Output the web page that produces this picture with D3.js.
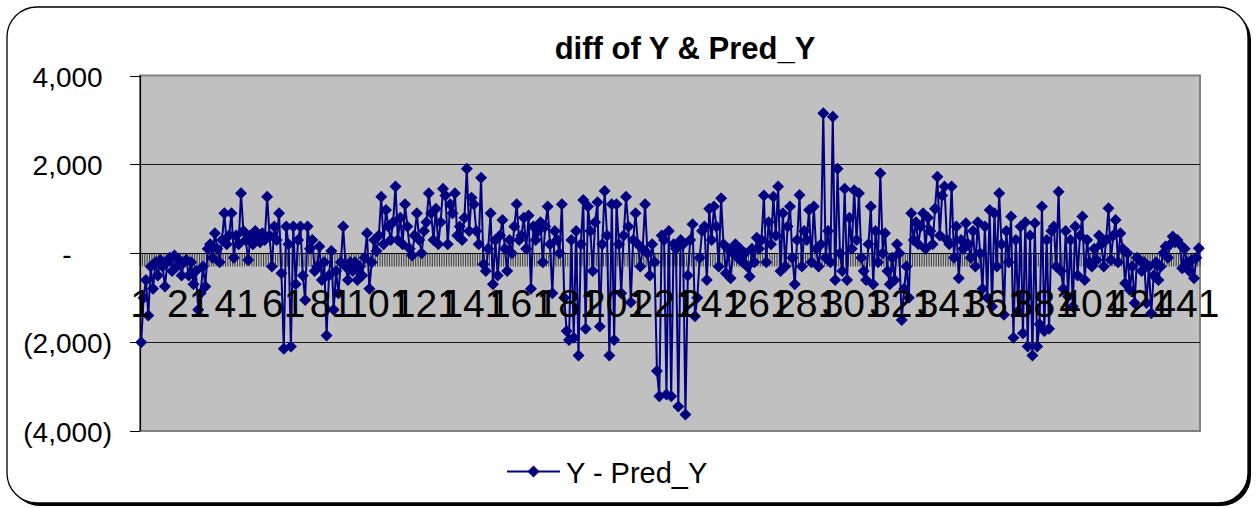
<!DOCTYPE html>
<html><head><meta charset="utf-8">
<script src="https://cdn.jsdelivr.net/npm/d3@7"></script>
<style>
body{margin:0;background:#fff}
svg{display:block}
text{font-family:"Liberation Sans", Arial, sans-serif;fill:#000}
</style>
</head><body>
<svg id="c" width="1256" height="508"></svg>
<script>
const chartTitle = "diff of Y & Pred_Y";
const seriesName = "Y - Pred_Y";
const seriesValues = [
 -2000,-1000,-600,-1400,-300,-800,-200,-500,-150,-300,-750,-200,-100,-400,-50,-300,-150,-500,-200,-150,
 -500,-200,-700,-400,-1270,-900,-300,-750,100,200,-100,450,100,-200,300,900,200,400,900,-100,
 400,200,1350,500,300,-150,400,200,500,350,250,450,300,1270,400,-300,600,300,900,-450,
 -2150,600,200,-2100,600,-700,300,600,-500,-1050,600,100,300,-400,-300,150,-600,-200,-1850,-500,
 50,-1270,-400,-900,-200,600,-300,-600,-200,-400,-200,-600,-300,-500,-100,450,-800,-200,300,50,
 400,1270,200,975,600,300,700,1500,300,800,200,1100,600,100,-50,400,900,300,0,500,
 700,1350,900,300,1000,200,700,1450,1300,200,1100,900,1350,400,600,300,800,1900,500,1250,
 1100,500,200,1700,-250,-400,100,900,-700,300,-500,400,750,100,-400,300,0,600,1100,300,
 400,800,100,850,-800,600,300,500,700,-200,600,1050,200,-900,500,300,0,1100,-1000,-1750,
 -1950,300,-1900,500,-2300,200,1200,-1700,1050,500,-400,700,1150,-1650,200,1400,400,-2300,1100,-1950,
 1100,200,-900,400,1270,600,-1100,300,900,200,-300,100,1100,0,-500,200,-200,-2650,-3220,400,
 300,-3180,500,-3220,200,100,-3450,300,200,-3630,-500,300,650,-1420,-1000,-100,500,600,-600,1000,
 300,1050,600,-300,1235,200,-450,100,-560,0,200,-100,100,-200,0,-300,-525,100,-200,350,
 100,300,1300,-200,700,200,1270,400,1500,-400,900,-300,600,1050,-100,-700,300,1310,-300,500,
 300,975,-200,1050,100,-300,200,3150,-100,500,-200,3070,-600,1900,0,-400,1450,-600,800,100,
 1420,300,1350,-100,-400,-600,200,1050,-700,500,-200,1800,0,450,-400,-700,-100,-600,200,0,
 -1500,-800,-300,-1000,900,300,700,200,600,900,100,800,500,200,1000,1720,400,1300,1500,300,
 200,1500,-100,600,-560,300,100,675,200,-100,500,-300,700,0,-800,600,-1000,975,-1200,900,
 -300,1350,200,-1385,500,-200,825,-1900,300,-1300,600,-1800,700,-2100,400,-2300,675,-2100,-1600,1050,
 -1750,300,-1700,500,600,-300,1385,-400,-800,500,-975,300,-1200,600,-500,400,825,-600,300,-200,
 -300,100,-150,400,200,-300,300,1010,-150,400,750,-200,450,100,-675,0,-825,-300,-1120,-100,
 -150,-400,-200,-1120,-300,-1350,-500,-200,-600,-300,0,150,-100,200,375,250,300,200,-340,100,
 -200,-400,-150,-560,-100,110
];
const categories = seriesValues.map((d, i) => i + 1);
const xTickLabels = ["1","21","41","61","81","101","121","141","161","181","201","221","241","261","281","301","321","341","361","381","401","421","441"];
const yTickValues = [4000, 2000, 0, -2000, -4000];
const yTickLabels = ["4,000", "2,000", "-", "(2,000)", "(4,000)"];

const svg = d3.select("#c");
const P = {left: 140, top: 75.5, right: 1200, bottom: 431};
const x = d3.scaleBand().domain(categories).range([P.left, P.right]).padding(0);
const y = d3.scaleLinear().domain([-4000, 4000]).range([P.bottom, P.top]);
const cx = c => x(c) + x.bandwidth() / 2;

// outer frame with shadow
svg.append("rect").attr("x", 10).attr("y", 10).attr("width", 1241).attr("height", 496)
  .attr("rx", 30).attr("fill", "#000");
svg.append("rect").attr("x", 7).attr("y", 7).attr("width", 1241).attr("height", 496)
  .attr("rx", 30).attr("fill", "#fff").attr("stroke", "#000").attr("stroke-width", 1.3);

// plot area
svg.append("rect").attr("x", P.left).attr("y", P.top).attr("width", P.right - P.left)
  .attr("height", P.bottom - P.top).attr("fill", "#c0c0c0").attr("stroke", "#808080").attr("stroke-width", 2);

// gridlines
svg.append("g").selectAll("line").data(yTickValues.filter(v => v !== 0 && Math.abs(v) < 4000)).join("line")
  .attr("x1", P.left).attr("x2", P.right).attr("y1", d => Math.round(y(d)) + 0.5).attr("y2", d => Math.round(y(d)) + 0.5)
  .attr("stroke", "#1a1a1a").attr("stroke-width", 1);

// category axis at zero with a tick for every category
const y0 = Math.round(y(0)) + 0.5;
svg.append("g").selectAll("line").data(categories.concat([categories.length + 1])).join("line")
  .attr("x1", c => x(c) !== undefined ? x(c) : P.right).attr("x2", c => x(c) !== undefined ? x(c) : P.right)
  .attr("y1", y0).attr("y2", y0 + 13).attr("stroke", "#2a2a2a").attr("stroke-width", 0.9);
svg.append("line").attr("x1", P.left).attr("x2", P.right).attr("y1", y0).attr("y2", y0)
  .attr("stroke", "#000").attr("stroke-width", 1);

// value axis
svg.append("line").attr("x1", P.left + 0.5).attr("x2", P.left + 0.5).attr("y1", P.top).attr("y2", P.bottom)
  .attr("stroke", "#000").attr("stroke-width", 1.2);
svg.append("g").selectAll("line").data(yTickValues).join("line")
  .attr("x1", P.left - 10).attr("x2", P.left).attr("y1", d => Math.round(y(d)) + 0.5).attr("y2", d => Math.round(y(d)) + 0.5)
  .attr("stroke", "#000").attr("stroke-width", 1);

// series
const line = d3.line().x((d, i) => cx(categories[i])).y(d => y(d));
svg.append("path").datum(seriesValues).attr("d", line).attr("fill", "none")
  .attr("stroke", "#000080").attr("stroke-width", 2).attr("stroke-linejoin", "round");
const diamond = "M0,-6L6,0L0,6L-6,0Z";
svg.append("g").selectAll("path").data(seriesValues).join("path")
  .attr("transform", (d, i) => `translate(${cx(categories[i])},${y(d)})`)
  .attr("d", diamond).attr("fill", "#000080");

// y labels (accounting alignment)
const yl = svg.append("g").attr("font-size", 28);
const meas = yl.append("text").text(")");
const parenW = meas.node().getComputedTextLength();
meas.text("0");
const digitW = meas.node().getComputedTextLength();
meas.remove();
const yRight = 112;
yl.selectAll("text").data(yTickValues).join("text")
  .attr("text-anchor", "end")
  .attr("x", d => d < 0 ? yRight : (d === 0 ? yRight - parenW - 2 * digitW : yRight - parenW))
  .attr("y", d => y(d) + 11)
  .text((d, i) => yTickLabels[i]);

// x labels (overlapping, as in the original)
svg.append("g").selectAll("text").data(xTickLabels).join("text")
  .attr("x", d => cx(+d)).attr("y", 317)
  .attr("text-anchor", "middle").attr("font-size", 39).text(d => d);

// title
svg.append("text").attr("x", 685).attr("y", 59).attr("text-anchor", "middle")
  .attr("font-size", 31).attr("font-weight", "bold").text(chartTitle);

// legend
const lg = svg.append("g");
lg.append("line").attr("x1", 507).attr("x2", 560).attr("y1", 471.5).attr("y2", 471.5)
  .attr("stroke", "#000080").attr("stroke-width", 2);
lg.append("path").attr("transform", "translate(533.5,471.5)").attr("d", diamond).attr("fill", "#000080");
lg.append("text").attr("x", 566).attr("y", 482.5).attr("font-size", 29).text(seriesName);
</script>
</body></html>
